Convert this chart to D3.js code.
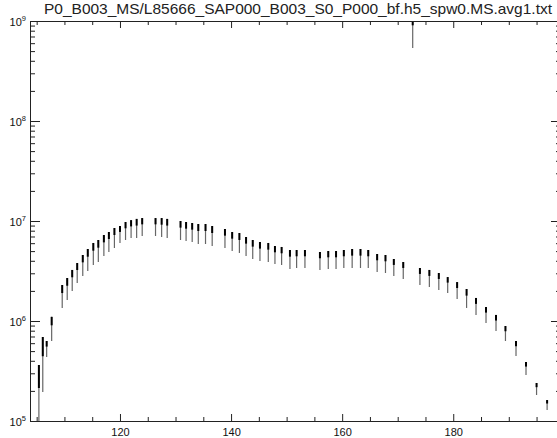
<!DOCTYPE html>
<html>
<head>
<meta charset="utf-8">
<script src="https://cdn.jsdelivr.net/npm/d3@7"></script>
<style>
  body { margin: 0; background: #fff; }
  svg { display: block; font-family: 'Liberation Sans', 'DejaVu Sans', sans-serif; }
  .axis path, .axis line { stroke: #222; }
  .axis text { fill: #111; }
</style>
</head>
<body>
<script>
// averaged spectrum per subband block: centre frequency (MHz), max and min power
const freqs = [105.4, 106.1, 106.8, 107.7, 109.6, 110.5, 111.4, 112.3, 113.3, 114.2,
  115.2, 116.1, 117.1, 118.0, 119.0, 120.0, 121.0, 122.0, 123.0, 124.0,
  126.4, 127.5, 128.5, 130.9, 131.9, 133.0, 134.1, 135.4, 136.6, 138.9,
  140.2, 141.5, 142.7, 143.9, 145.2, 146.7, 147.9, 149.1, 150.6, 151.8,
  153.3, 156.0, 157.5, 158.9, 160.3, 161.8, 163.3, 164.7, 166.3, 167.8,
  169.3, 171.0, 172.7, 174.0, 175.7, 177.4, 179.0, 180.7, 182.4, 184.1,
  185.9, 187.7, 189.4, 191.3, 193.1, 195.0, 196.9]
const maxPower = [3.63e5, 6.92e5, 6.31e5, 1.10e6, 2.29e6, 2.69e6, 3.24e6, 3.80e6, 4.57e6, 5.25e6,
  6.03e6, 6.46e6, 7.24e6, 7.76e6, 8.51e6, 8.91e6, 9.77e6, 1.02e7, 1.05e7, 1.07e7,
  1.07e7, 1.07e7, 1.05e7, 1.00e7, 9.77e6, 9.55e6, 9.33e6, 9.33e6, 8.91e6, 8.32e6,
  7.76e6, 7.59e6, 6.92e6, 6.46e6, 6.17e6, 6.03e6, 5.62e6, 5.50e6, 5.13e6, 5.13e6,
  5.13e6, 4.90e6, 5.01e6, 5.01e6, 5.13e6, 5.25e6, 5.25e6, 5.13e6, 4.68e6, 4.57e6,
  4.17e6, 3.89e6, 1.2e9, 3.39e6, 3.24e6, 3.02e6, 2.75e6, 2.45e6, 2.09e6, 1.70e6,
  1.38e6, 1.15e6, 8.91e5, 6.31e5, 3.89e5, 2.40e5, 1.62e5]
const minPower = [8.0e4, 1.95e5, 4.37e5, 6.31e5, 1.35e6, 1.62e6, 2.00e6, 2.40e6, 2.82e6, 3.16e6,
  3.63e6, 3.89e6, 4.47e6, 4.90e6, 5.37e6, 6.03e6, 6.46e6, 6.76e6, 6.76e6, 7.08e6,
  7.08e6, 6.92e6, 6.76e6, 6.46e6, 6.31e6, 6.17e6, 5.89e6, 5.89e6, 5.62e6, 5.37e6,
  5.01e6, 4.79e6, 4.47e6, 4.17e6, 3.98e6, 3.89e6, 3.72e6, 3.63e6, 3.31e6, 3.39e6,
  3.39e6, 3.24e6, 3.31e6, 3.31e6, 3.39e6, 3.39e6, 3.39e6, 3.39e6, 3.09e6, 3.02e6,
  2.82e6, 2.63e6, 5.37e8, 2.29e6, 2.19e6, 2.04e6, 1.91e6, 1.66e6, 1.35e6, 1.15e6,
  9.55e5, 7.94e5, 6.31e5, 4.47e5, 2.88e5, 1.82e5, 1.29e5]

const xRange = [103.8, 199.4]
const yRange = [1e5, 1e9]
const xLabelTicks = [120, 140, 160, 180]
const xMinorTicks = [105, 110, 115, 125, 130, 135, 145, 150, 155, 165, 170, 175, 185, 190, 195]
const yLabelTicks = [1e5, 1e6, 1e7, 1e8, 1e9]
const title = 'P0_B003_MS/L85666_SAP000_B003_S0_P000_bf.h5_spw0.MS.avg1.txt'

const width = 557
const height = 438
const margin = { top: 21, right: -4, bottom: 17, left: 30 }

const svg = d3.select('body').append('svg')
  .attr('width', width)
  .attr('height', height)

const x = d3.scaleLinear().domain(xRange).range([margin.left, width - margin.right])
const y = d3.scaleLog().domain(yRange).range([height - margin.bottom, margin.top])

const yMinorTicks = []
yLabelTicks.slice(0, -1).forEach(d => {
  for (let k = 2; k < 10; k++) yMinorTicks.push(d * k)
})

const frameBottom = y.range()[0]
const frameTop = margin.top
const frameLeft = margin.left
const frameRight = x.range()[1]

svg.append('defs').append('clipPath')
  .attr('id', 'plot-area')
  .append('rect')
  .attr('x', frameLeft)
  .attr('y', frameTop)
  .attr('width', frameRight - frameLeft)
  .attr('height', frameBottom - frameTop)

// title
svg.append('text')
  .attr('x', 298)
  .attr('y', 14)
  .attr('text-anchor', 'middle')
  .attr('font-size', 14.5)
  .attr('textLength', 508)
  .attr('lengthAdjust', 'spacingAndGlyphs')
  .attr('fill', '#222')
  .text(title)

// data segments: thin grey tail from max to min, heavy black head near the max
const bands = d3.range(freqs.length).map(i => ({ f: freqs[i], hi: maxPower[i], lo: minPower[i] }))
const marks = svg.append('g').attr('clip-path', 'url(#plot-area)')
marks.selectAll('line.tail')
  .data(bands)
  .enter()
  .append('line')
  .attr('class', 'tail')
  .attr('x1', d => x(d.f))
  .attr('x2', d => x(d.f))
  .attr('y1', d => y(d.hi))
  .attr('y2', d => y(d.lo))
  .attr('stroke', '#666')
  .attr('stroke-width', 1.2)
marks.selectAll('line.head')
  .data(bands)
  .enter()
  .append('line')
  .attr('class', 'head')
  .attr('x1', d => x(d.f))
  .attr('x2', d => x(d.f))
  .attr('y1', d => y(d.hi))
  .attr('y2', d => y(d.hi) + (y(d.lo) - y(d.hi)) * 0.35)
  .attr('stroke', '#000')
  .attr('stroke-width', 2)

// frame and ticks
svg.append('g').attr('class', 'axis')
  .attr('transform', `translate(0,${frameBottom})`)
  .call(d3.axisBottom(x).tickValues(xLabelTicks).tickSize(-7).tickPadding(5).tickFormat(d3.format('d')))
  .call(g => g.selectAll('text').attr('font-size', 11).attr('dy', '0.95em'))
svg.append('g').attr('class', 'axis')
  .attr('transform', `translate(0,${frameBottom})`)
  .call(d3.axisBottom(x).tickValues(xMinorTicks).tickSize(-4).tickFormat(''))
  .call(g => g.select('.domain').remove())
svg.append('g').attr('class', 'axis')
  .attr('transform', `translate(0,${frameTop})`)
  .call(d3.axisTop(x).tickValues(xLabelTicks).tickSize(-7).tickFormat(''))
svg.append('g').attr('class', 'axis')
  .attr('transform', `translate(0,${frameTop})`)
  .call(d3.axisTop(x).tickValues(xMinorTicks).tickSize(-4).tickFormat(''))
  .call(g => g.select('.domain').remove())

const leftAxis = svg.append('g').attr('class', 'axis')
  .attr('transform', `translate(${frameLeft},0)`)
  .call(d3.axisLeft(y).tickValues(yLabelTicks).tickSize(-10).tickPadding(4).tickFormat(''))
leftAxis.selectAll('.tick text')
  .attr('font-size', 11)
  .attr('dy', '0.45em')
  .each(function (d) {
    const t = d3.select(this)
    t.append('tspan').text('10')
    t.append('tspan')
      .attr('font-size', 7.5)
      .attr('dy', '-0.75em')
      .text(Math.round(Math.log10(d)))
  })
svg.append('g').attr('class', 'axis')
  .attr('transform', `translate(${frameLeft},0)`)
  .call(d3.axisLeft(y).tickValues(yMinorTicks).tickSize(-5).tickFormat(''))
  .call(g => g.select('.domain').remove())

const rightAxis = svg.append('g').attr('class', 'axis')
  .attr('transform', `translate(${frameRight},0)`)
  .call(d3.axisRight(y).tickValues(yLabelTicks).tickSize(-10).tickFormat(''))
svg.append('g').attr('class', 'axis')
  .attr('transform', `translate(${frameRight},0)`)
  .call(d3.axisRight(y).tickValues(yMinorTicks).tickSize(-5).tickFormat(''))
  .call(g => g.select('.domain').remove())
rightAxis.selectAll('line').attr('stroke', '#888')
</script>
</body>
</html>
